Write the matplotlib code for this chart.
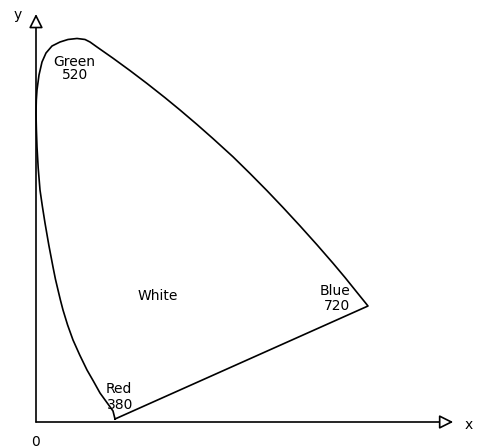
import numpy as np
import matplotlib.pyplot as plt

# locus of the diagram (axis length ~1)
# runs from red 380 up the left side, over green 520, down to blue 720
locus_x = [0.1975, 0.1925, 0.1763, 0.160, 0.1433, 0.1275, 0.1093, 0.0925, 0.079, 0.0675,
           0.061, 0.055, 0.0485, 0.0425, 0.032, 0.0225, 0.0158, 0.010, 0.0055, 0.0025,
           0.001, 0.000, 0.0008, 0.0025, 0.0075, 0.015, 0.025, 0.040, 0.060, 0.080,
           0.1025, 0.1225, 0.135,
           0.1525, 0.1925, 0.235, 0.2775, 0.3225, 0.360, 0.4025, 0.4425, 0.4925, 0.535,
           0.5775, 0.6175, 0.660, 0.7025, 0.7425, 0.7725, 0.8025, 0.830]
locus_y = [0.0075, 0.0275, 0.050, 0.0725, 0.1025, 0.130, 0.1675, 0.205, 0.2425, 0.280,
           0.305, 0.330, 0.3575, 0.3875, 0.4425, 0.4975, 0.540, 0.580, 0.635, 0.6875,
           0.730, 0.7725, 0.805, 0.830, 0.8675, 0.900, 0.9225, 0.940, 0.950, 0.9563,
           0.9588, 0.9563, 0.950,
           0.9375, 0.9095, 0.8785, 0.8463, 0.8108, 0.780, 0.7438, 0.7085, 0.663, 0.6213,
           0.5783, 0.5363, 0.4903, 0.443, 0.397, 0.3613, 0.324, 0.290]

labels = ['Green', '520', 'Red', '380', 'Blue', '720', 'White']
label_x = [0.095, 0.098, 0.208, 0.210, 0.748, 0.753, 0.305]
label_y = [0.900, 0.868, 0.083, 0.043, 0.328, 0.290, 0.315]

fig = plt.figure(figsize=(4.8, 4.48), dpi=100)
ax = fig.add_axes([0, 0, 1, 1])
ax.set_xlim(-0.09, 1.11)
ax.set_ylim(-0.065, 1.055)
ax.axis('off')

# closed curve: locus + straight line back to red
xs = locus_x + [locus_x[0]]
ys = locus_y + [locus_y[0]]
ax.plot(xs, ys, color='black', lw=1.2, solid_joinstyle='round')

# axes with open arrowheads
arr = dict(arrowstyle='-|>,head_length=0.6,head_width=0.3', fc='white', ec='black',
           lw=1.2, shrinkA=0, shrinkB=0, mutation_scale=14)
ax.annotate('', xy=(0, 1.02), xytext=(0, 0), arrowprops=arr)
ax.annotate('', xy=(1.043, 0), xytext=(0, 0), arrowprops=arr)

for t, x, y in zip(labels, label_x, label_y):
    ax.text(x, y, t, ha='center', va='center', fontsize=10)

ax.text(-0.045, 1.018, 'y', ha='center', va='center', fontsize=10)
ax.text(1.083, -0.008, 'x', ha='center', va='center', fontsize=10)
ax.text(0.0, -0.061, '0', ha='center', va='baseline', fontsize=10)

plt.savefig('out.png', dpi=100)
